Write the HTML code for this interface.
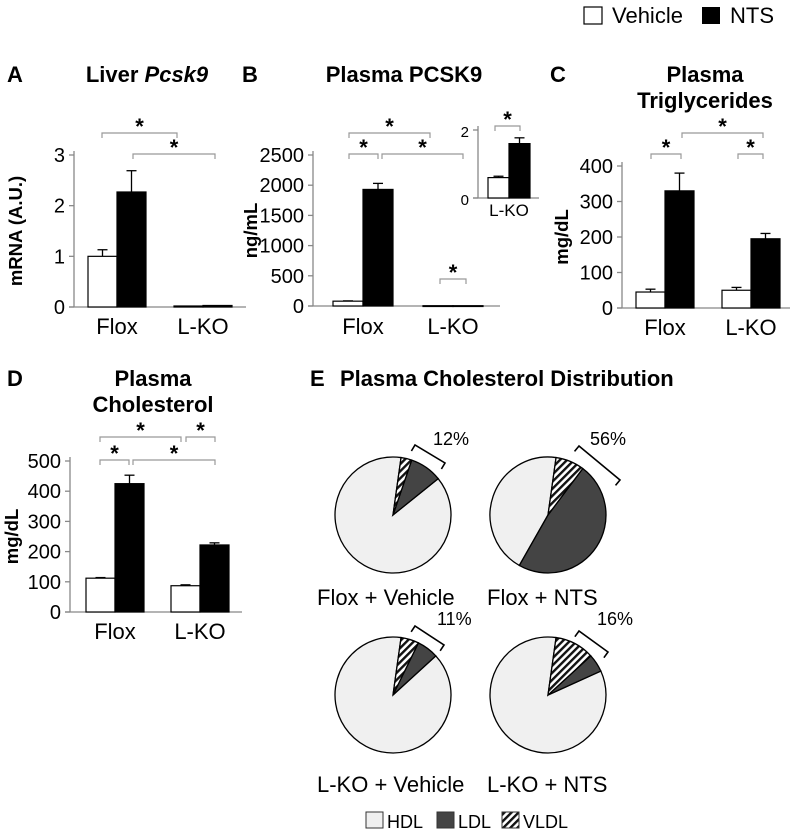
<!DOCTYPE html>
<html><head><meta charset="utf-8"><style>
html,body{margin:0;padding:0;background:#fff;}
svg{display:block;font-family:"Liberation Sans",Arial,sans-serif;}
</style></head><body>
<svg id="fig" width="800" height="836" viewBox="0 0 800 836">
<defs>
<pattern id="hatch" patternUnits="userSpaceOnUse" width="5" height="5" patternTransform="rotate(45)">
<rect width="5" height="5" fill="#fff"/><rect width="2.4" height="5" fill="#111"/>
</pattern>
</defs>
<g>
<rect x="584" y="7" width="18" height="17" fill="#fff" stroke="#000" stroke-width="1.2"/>
<text x="612" y="23" font-size="22">Vehicle</text>
<rect x="702" y="7" width="18" height="17" fill="#000"/>
<text x="730" y="23" font-size="22">NTS</text>
</g>
<g font-weight="bold" font-size="22">
<text x="7" y="82">A</text>
<text x="147" y="82" text-anchor="middle">Liver <tspan font-style="italic">Pcsk9</tspan></text>
<text x="242" y="82">B</text>
<text x="404" y="82" text-anchor="middle">Plasma PCSK9</text>
<text x="550" y="82">C</text>
<text x="705" y="82" text-anchor="middle">Plasma</text>
<text x="705" y="108" text-anchor="middle">Triglycerides</text>
<text x="7" y="386">D</text>
<text x="153" y="386" text-anchor="middle">Plasma</text>
<text x="153" y="412" text-anchor="middle">Cholesterol</text>
<text x="310" y="386">E</text>
<text x="340" y="386">Plasma Cholesterol Distribution</text>
</g>
<g id="charts"></g>
<g id="pies"></g>
<g font-size="18">
<rect x="366" y="812" width="17" height="16" fill="#f0f0f0" stroke="#333"/>
<text x="387" y="828">HDL</text>
<rect x="437" y="812" width="17" height="16" fill="#444" stroke="#333"/>
<text x="458" y="828">LDL</text>
<rect x="502" y="812" width="17" height="16" fill="url(#hatch)" stroke="#333"/>
<text x="523" y="828">VLDL</text>
</g>
</svg>
<script>
// Bar chart data
const categories = ["Flox", "L-KO"];
const aVehicle = [1.0, 0.02], aNTS = [2.27, 0.03], aVehErr = [0.13, 0], aNTSErr = [0.42, 0];
const aTicks = [0, 1, 2, 3];
const bVehicle = [80, 5], bNTS = [1930, 5], bVehErr = [5, 0], bNTSErr = [100, 0];
const bTicks = [0, 500, 1000, 1500, 2000, 2500];
const insetVehicle = [0.6], insetNTS = [1.6], insetVehErr = [0.04], insetNTSErr = [0.17];
const insetTicks = [0, 2];
const cVehicle = [45, 50], cNTS = [330, 195], cVehErr = [8, 8], cNTSErr = [50, 15];
const cTicks = [0, 100, 200, 300, 400];
const dVehicle = [112, 87], dNTS = [425, 222], dVehErr = [2, 3], dNTSErr = [28, 7];
const dTicks = [0, 100, 200, 300, 400, 500];
// Pie data (percent): VLDL, LDL (HDL = remainder)
const pieLabels = ["Flox + Vehicle", "Flox + NTS", "L-KO + Vehicle", "L-KO + NTS"];
const pieVLDL = [3, 8, 5, 11];
const pieLDL = [9, 48, 6, 5];
const piePct = ["12%", "56%", "11%", "16%"];

const NS = "http://www.w3.org/2000/svg";
function mk(tag, attrs, parent){ const e=document.createElementNS(NS,tag); for(const k in attrs) e.setAttribute(k,attrs[k]); parent.appendChild(e); return e; }
const charts = document.getElementById("charts");

function chart(cfg){
  const g = mk("g", {}, charts);
  
  
  const y = v => cfg.y0 - (v - 0) / cfg.max * (cfg.y0 - cfg.yTop);
  mk("line",{x1:cfg.ax,y1:cfg.yTop-4,x2:cfg.ax,y2:cfg.y0,stroke:"#888","stroke-width":1.3},g);
  mk("line",{x1:cfg.ax-5,y1:cfg.y0,x2:cfg.axEnd,y2:cfg.y0,stroke:"#888","stroke-width":1.3},g);
  cfg.ticks.forEach(t=>{
    mk("line",{x1:cfg.ax-5,y1:y(t),x2:cfg.ax,y2:y(t),stroke:"#888","stroke-width":1.3},g);
    const tx = mk("text",{x:cfg.ax-9,y:y(t)+7,"font-size":cfg.tickFs,"text-anchor":"end"},g);
    tx.textContent = t;
    
    
  });
  cfg.cats.forEach((c,i)=>{
    const x0 = cfg.groupX[i];
    [[cfg.veh,cfg.vehErr,"#fff",0],[cfg.nts,cfg.ntsErr,"#000",1]].forEach(([vals,errs,fill,k])=>{
      const bx = x0 + (k-1)*cfg.bw;
      const top = y(vals[i]);
      const e = y(vals[i]+errs[i]);
      if(errs[i]>0){
        mk("line",{x1:bx+cfg.bw/2,y1:top,x2:bx+cfg.bw/2,y2:e,stroke:"#000","stroke-width":1.3},g);
        mk("line",{x1:bx+cfg.bw/2-5,y1:e,x2:bx+cfg.bw/2+5,y2:e,stroke:"#000","stroke-width":1.3},g);
      }
      const r = mk("rect",{x:bx,y:top,width:cfg.bw,height:Math.max(cfg.y0-top,0.8),fill:fill,stroke:"#000","stroke-width":1.2},g);
      
      
    });
    const lt = mk("text",{x:x0,y:cfg.y0+cfg.catDy,"font-size":cfg.catFs,"text-anchor":"middle"},g);
    lt.textContent = c;
    
    
  });
  if(cfg.ytitle){
    const t = mk("text",{x:0,y:0,"font-size":18.5,"font-weight":"bold","text-anchor":"middle",transform:`translate(${cfg.ytx},${(cfg.y0+cfg.yTop)/2}) rotate(-90)`},g);
    t.textContent = cfg.ytitle;
    
    
  }
}
chart({name:"panel-a-chart",cats:categories,veh:aVehicle,nts:aNTS,vehErr:aVehErr,ntsErr:aNTSErr,ticks:aTicks,max:3,ax:74,axEnd:246,y0:307,yTop:155,groupX:[117,203],bw:29,tickFs:20,catFs:22,catDy:27,ytitle:"mRNA (A.U.)",ytx:22});
chart({name:"panel-b-chart",cats:categories,veh:bVehicle,nts:bNTS,vehErr:bVehErr,ntsErr:bNTSErr,ticks:bTicks,max:2500,ax:313,axEnd:500,y0:306,yTop:155,groupX:[363,453],bw:30,tickFs:20,catFs:22,catDy:28,ytitle:"ng/mL",ytx:257});
chart({name:"panel-b-inset",cats:["L-KO"],veh:insetVehicle,nts:insetNTS,vehErr:insetVehErr,ntsErr:insetNTSErr,ticks:insetTicks,max:2,ax:478,axEnd:539,y0:198,yTop:130,groupX:[509],bw:21,tickFs:15,catFs:17,catDy:18});
chart({name:"panel-c-chart",cats:categories,veh:cVehicle,nts:cNTS,vehErr:cVehErr,ntsErr:cNTSErr,ticks:cTicks,max:400,ax:622,axEnd:790,y0:308,yTop:166,groupX:[665,751],bw:29,tickFs:20,catFs:22,catDy:27,ytitle:"mg/dL",ytx:568});
chart({name:"panel-d-chart",cats:categories,veh:dVehicle,nts:dNTS,vehErr:dVehErr,ntsErr:dNTSErr,ticks:dTicks,max:500,ax:70,axEnd:242,y0:612,yTop:461,groupX:[115,200],bw:29,tickFs:20,catFs:22,catDy:27,ytitle:"mg/dL",ytx:18});

// significance brackets [x1,x2,y]
const sig = [[102,177,133],[133,215,154],[349,430,133],[349,378,154],[382,463,154],[440,466,279],[495,520,126],
  [651,681,154],[682,763,133],[738,763,154],[100,181,437],[186,215,437],[100,129,460],[133,215,460]];
sig.forEach(([x1,x2,yy])=>{
  const p = mk("path",{d:`M${x1},${yy+5}V${yy}H${x2}V${yy+5}`,fill:"none",stroke:"#999","stroke-width":1.2},charts);
  
  
  const s = mk("text",{x:(x1+x2)/2,y:yy+1,"font-size":22,"font-weight":"bold","text-anchor":"middle"},charts);
  s.textContent = "*";
  
  
});

// pies
const pies = document.getElementById("pies");
const pieCX = [393,548,393,548], pieCY = [515,515,695,695], R = 58, START = 8;
// bracket endpoints relative to pie centre (annotation positions)
const brk = [[[22,-70],[52,-52]],[[31,-69],[72,-35]],[[22,-69],[51,-50]],[[31,-64],[60,-43]]];
const pctX = [40,42,44,49];
const labDX = [-76,-61,-76,-61];
function pt(cx,cy,r,deg){ const a=deg*Math.PI/180; return [cx+r*Math.sin(a), cy-r*Math.cos(a)]; }
function slice(cx,cy,a0,a1,fill,g,name){
  const [x0,y0]=pt(cx,cy,R,a0),[x1,y1]=pt(cx,cy,R,a1);
  const large = (a1-a0)>180?1:0;
  const p = mk("path",{d:`M${cx},${cy}L${x0},${y0}A${R},${R} 0 ${large} 1 ${x1},${y1}Z`,fill:fill,stroke:"#000","stroke-width":1.3},g);
  
  
}
pieLabels.forEach((lab,i)=>{
  const g = mk("g",{},pies);
  
  
  const cx=pieCX[i], cy=pieCY[i];
  const a0=START, a1=a0+pieVLDL[i]*3.6, a2=a1+pieLDL[i]*3.6;
  slice(cx,cy,a2,a0+360,"#f0f0f0",g,'slice-hdl');
  slice(cx,cy,a1,a2,"#444",g,'slice-ldl');
  slice(cx,cy,a0,a1,"url(#hatch)",g,'slice-vldl');
  const [p,q] = brk[i];
  const P=[cx+p[0],cy+p[1]], Q=[cx+q[0],cy+q[1]];
  const dx=Q[0]-P[0], dy=Q[1]-P[1], L=Math.hypot(dx,dy);
  const nx=-dy/L*7, ny=dx/L*7; // perpendicular toward pie
  const br = mk("path",{d:`M${P[0]+nx},${P[1]+ny}L${P[0]},${P[1]}L${Q[0]},${Q[1]}L${Q[0]+nx},${Q[1]+ny}`,fill:"none",stroke:"#000","stroke-width":1.6},g);
  
  
  const pc = mk("text",{x:cx+pctX[i],y:cy-70,"font-size":18},g);
  pc.textContent = piePct[i];
  
  
  const lt = mk("text",{x:cx+labDX[i],y:cy+(i<2?90:97),"font-size":22},g);
  lt.textContent = lab;
  
  
});
</script>
</body></html>
